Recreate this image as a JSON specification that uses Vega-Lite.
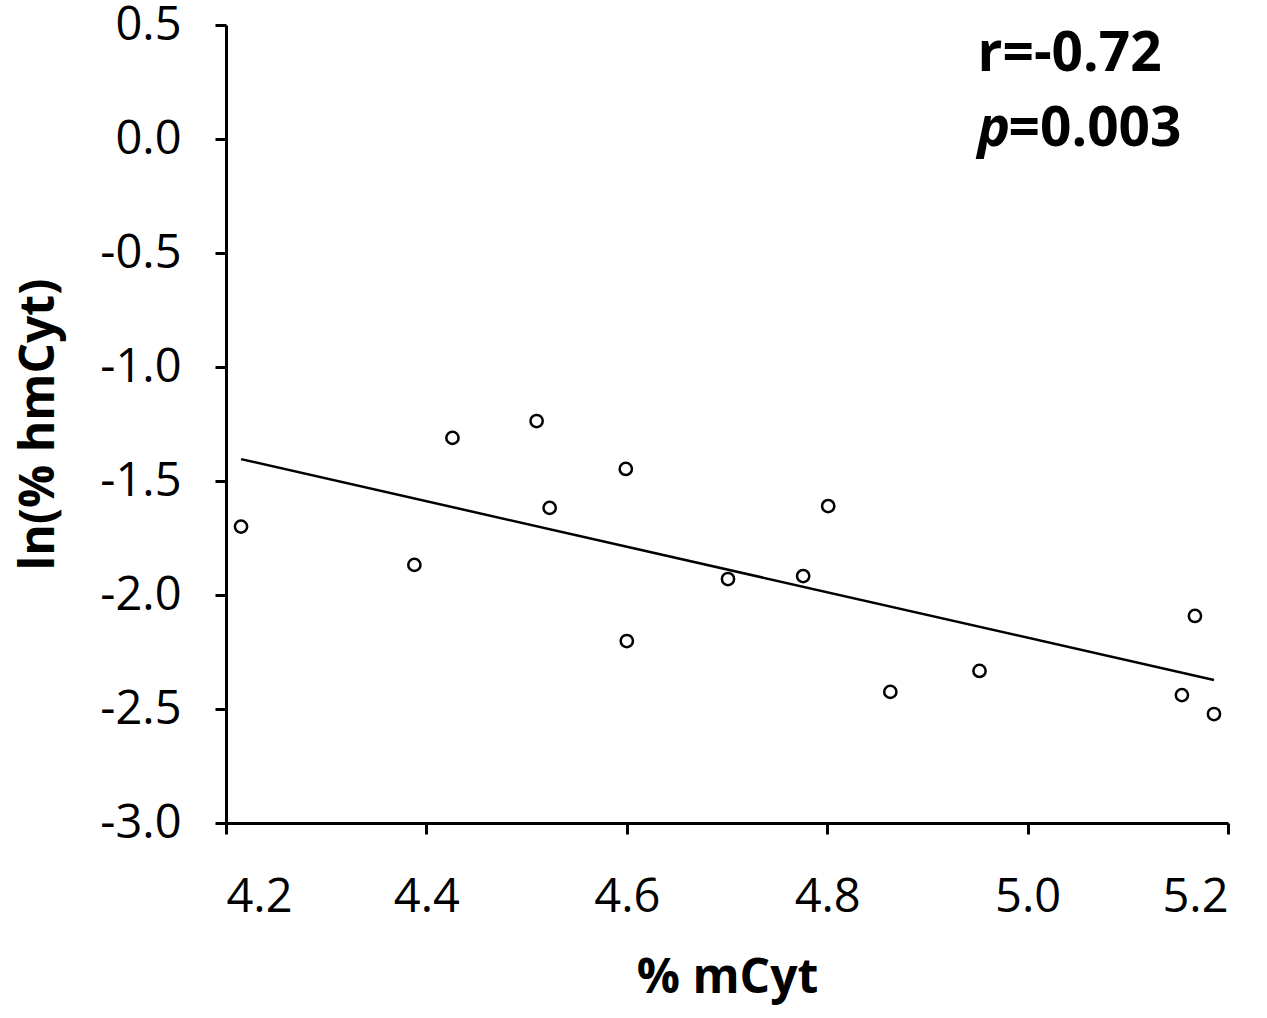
{
  "$schema": "https://vega.github.io/schema/vega-lite/v6.json",
  "autosize": "none",
  "width": 1002,
  "height": 798,
  "padding": {"left": 226, "top": 25, "right": 39, "bottom": 195},
  "background": "white",
  "config": {
    "view": {"stroke": null},
    "font": "Open Sans",
    "axis": {
      "grid": false,
      "domainColor": "black",
      "domainWidth": 3,
      "tickColor": "black",
      "tickWidth": 3,
      "tickSize": 11,
      "labelColor": "black",
      "labelFont": "Open Sans",
      "labelFontSize": 47,
      "titleColor": "black",
      "titleFont": "Open Sans",
      "titleFontSize": 48,
      "titleFontWeight": "bold"
    }
  },
  "datasets": {
    "points": [
      {"mcyt": 4.215, "lnhm": -1.70},
      {"mcyt": 4.388, "lnhm": -1.868},
      {"mcyt": 4.426, "lnhm": -1.311},
      {"mcyt": 4.510, "lnhm": -1.237},
      {"mcyt": 4.523, "lnhm": -1.618},
      {"mcyt": 4.599, "lnhm": -1.447},
      {"mcyt": 4.600, "lnhm": -2.202},
      {"mcyt": 4.701, "lnhm": -1.930},
      {"mcyt": 4.776, "lnhm": -1.917},
      {"mcyt": 4.801, "lnhm": -1.610},
      {"mcyt": 4.863, "lnhm": -2.425},
      {"mcyt": 4.952, "lnhm": -2.333},
      {"mcyt": 5.154, "lnhm": -2.439},
      {"mcyt": 5.167, "lnhm": -2.092},
      {"mcyt": 5.186, "lnhm": -2.522}
    ],
    "fit": [
      {"mcyt": 4.215, "lnhm": -1.404},
      {"mcyt": 5.186, "lnhm": -2.373}
    ],
    "notes": [
      {"mcyt": 4.95, "lnhm": 0.30, "label": "r=-0.72"},
      {"mcyt": 4.981, "lnhm": -0.03, "label": "=0.003"}
    ],
    "pnote": [
      {"mcyt": 4.95, "lnhm": -0.03, "label": "p"}
    ]
  },
  "encoding": {
    "x": {
      "field": "mcyt",
      "type": "quantitative",
      "scale": {"domain": [4.2, 5.2], "nice": false, "zero": false},
      "axis": {
        "title": "% mCyt",
        "values": [4.2, 4.4, 4.6, 4.8, 5.0, 5.2],
        "format": ".1f",
        "labelPadding": 40,
        "titlePadding": 34
      }
    },
    "y": {
      "field": "lnhm",
      "type": "quantitative",
      "scale": {"domain": [-3.0, 0.5], "nice": false, "zero": false},
      "axis": {
        "title": "ln(% hmCyt)",
        "values": [-3.0, -2.5, -2.0, -1.5, -1.0, -0.5, 0.0, 0.5],
        "labelExpr": "replace(format(datum.value, '.1f'), '−', '-')",
        "labelPadding": 34,
        "titlePadding": 36
      }
    }
  },
  "layer": [
    {
      "data": {"name": "fit"},
      "mark": {"type": "line", "color": "black", "strokeWidth": 2.5}
    },
    {
      "data": {"name": "points"},
      "mark": {"type": "point", "shape": "circle", "filled": false, "color": "black", "fill": "white", "fillOpacity": 1, "strokeWidth": 2.5, "size": 150, "opacity": 1}
    },
    {
      "data": {"name": "notes"},
      "mark": {"type": "text", "align": "left", "baseline": "alphabetic", "font": "Open Sans", "fontSize": 55, "fontWeight": "bold", "color": "black"},
      "encoding": {"text": {"field": "label"}}
    },
    {
      "data": {"name": "pnote"},
      "mark": {"type": "text", "align": "left", "baseline": "alphabetic", "font": "Open Sans", "fontSize": 55, "fontWeight": "bold", "fontStyle": "italic", "color": "black"},
      "encoding": {"text": {"field": "label"}}
    }
  ]
}
